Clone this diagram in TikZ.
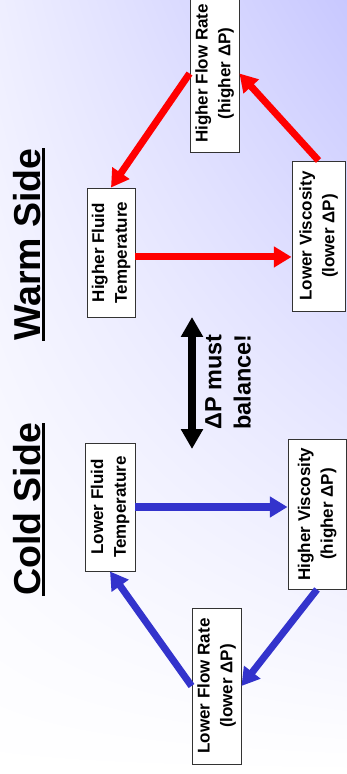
\documentclass[tikz,border=0pt]{standalone}
\usepackage{fontspec}
\setmainfont{Liberation Sans}
\usepackage{graphicx}
\usetikzlibrary{arrows.meta,shadings}
\definecolor{lavender}{RGB}{200,200,255}
\definecolor{palelav}{RGB}{238,238,255}
\definecolor{coldblue}{RGB}{51,51,204}
\newcommand{\uptext}[1]{\rotatebox{90}{\begin{tabular}{@{}c@{}}#1\end{tabular}}}

\begin{document}
\begin{tikzpicture}[x=0.03cm,y=-0.03cm,
  fact/.style={draw=black!80,line width=0.8pt,fill=white,inner sep=0pt,font=\bfseries\fontsize{14.5}{19.5}\selectfont},
  warm/.style={draw=red,line width=6pt,-{Triangle[width=17pt,length=15pt]}},
  cold/.style={warm,draw=coldblue},
  title/.style={rotate=90,anchor=base,inner sep=0pt,font=\bfseries\fontsize{32}{38}\selectfont}]
\shade[upper left=palelav,upper right=lavender,lower left=white,lower right=white] (0,0) rectangle (347,774);
\useasboundingbox (0,0) rectangle (347,774);

%Titles
\node[title] (warmside) at (40,244.5) {Warm Side};
\node[title] (coldside) at (40,509.5) {Cold Side};
\foreach \t in {warmside,coldside}
	\draw [line width=2.6pt] ([xshift=3pt]\t.base west) -- ([xshift=3pt]\t.base east);

%Warm side boxes
\node[fact,minimum width=1.47cm,minimum height=4.71cm] (hfr) at (214.5,73.5) {\uptext{Higher Flow Rate\\(higher ΔP)}};
\node[fact,minimum width=1.59cm,minimum height=4.5cm] (lv) at (318.5,236) {\uptext{Lower Viscosity\\(lower ΔP)}};
\node[fact,minimum width=1.44cm,minimum height=3.87cm] (hft) at (111,252.5) {\uptext{Higher Fluid\\Temperature}};

%Cold side boxes
\node[fact,minimum width=1.5cm,minimum height=3.84cm] (lft) at (110,507) {\uptext{Lower Fluid\\Temperature}};
\node[fact,minimum width=1.74cm,minimum height=4.5cm] (hv) at (317,514) {\uptext{Higher Viscosity\\(higher ΔP)}};
\node[fact,minimum width=1.47cm,minimum height=4.68cm] (lfr) at (216.5,686) {\uptext{Lower Flow Rate\\(lower ΔP)}};

%Warm loop
\coordinate (hftout) at ([yshift=-3.8pt]hft.east);
\draw [warm] (hfr.west) -- (hft.north);
\draw [warm] (hftout) -- (hftout -| lv.west);
\draw [warm] (lv.north) -- (hfr.east);

%Cold loop
\draw [cold] (lft.east) -- (lft.east -| hv.west);
\draw [cold] (hv.south) -- (lfr.east);
\draw [cold] (lfr.west) -- (lft.south);

%Balance
\coordinate (baltop) at (192,317);
\coordinate (balbot) at (192,449);
\draw [line width=7pt,{Triangle[width=18pt,length=17pt]}-{Triangle[width=18pt,length=17pt]}] (baltop) -- (balbot);
\node[rotate=90,align=center,font=\bfseries\fontsize{20}{25}\selectfont] (must) at (228,382) {ΔP must\\balance!};
\end{tikzpicture}
\end{document}
